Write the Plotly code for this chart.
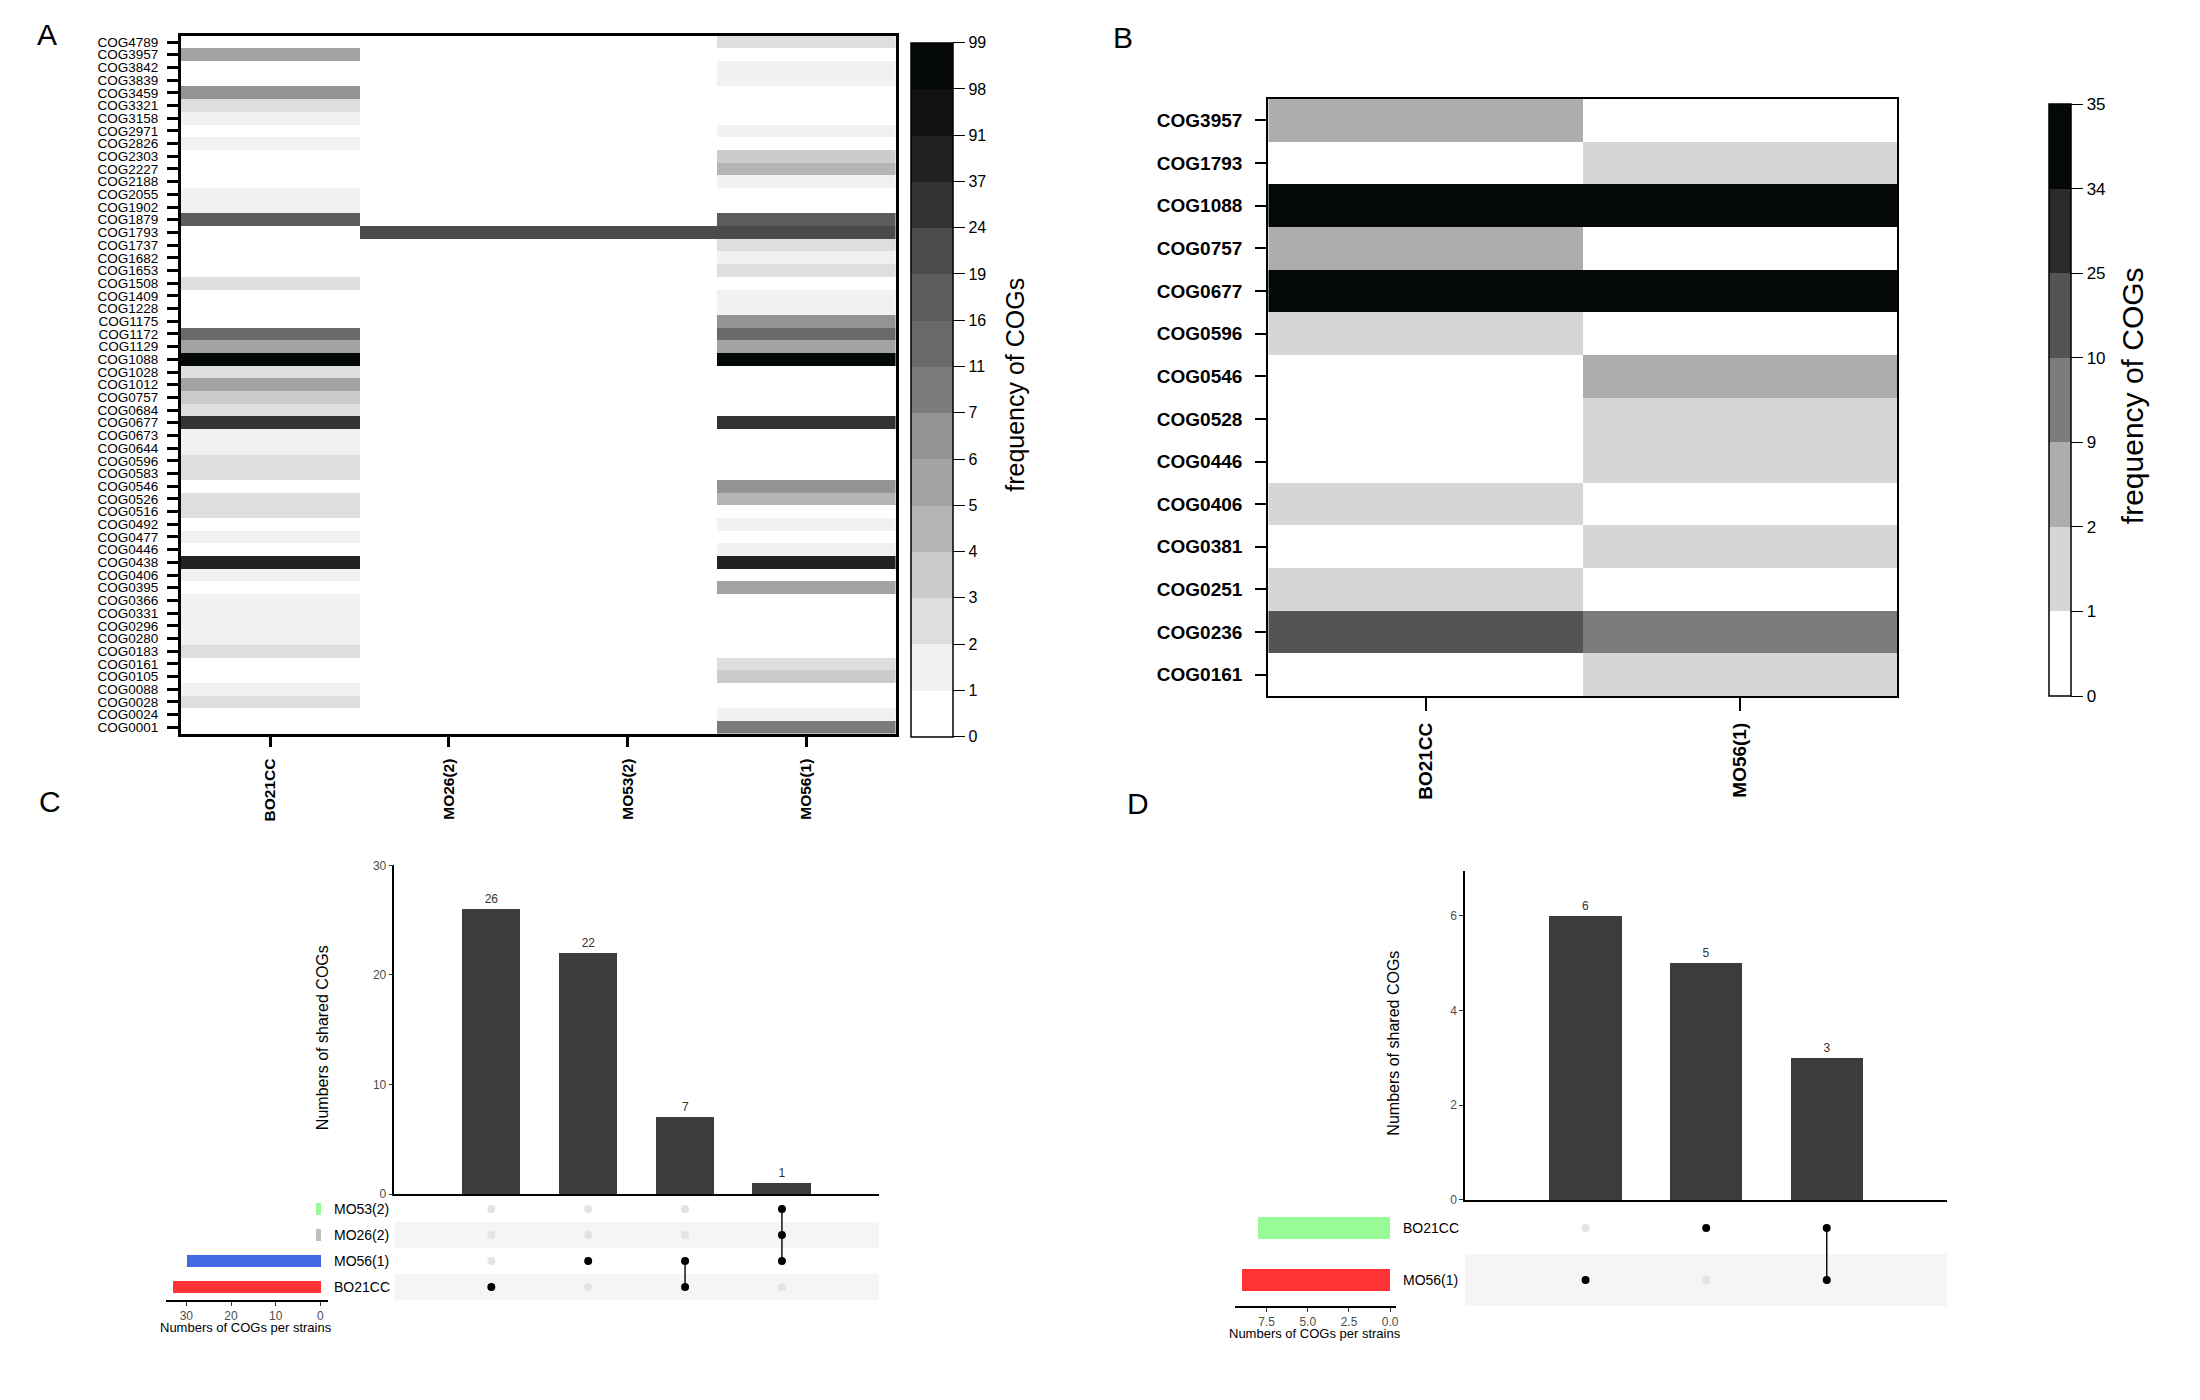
import numpy as np
import plotly.graph_objects as go

W, H = 2200, 1400
FONT = "Liberation Sans, Arial, Helvetica, sans-serif"

# ---------------- Panel A data ----------------
cogs_A = ["COG4789", "COG3957", "COG3842", "COG3839", "COG3459", "COG3321", "COG3158", "COG2971",
          "COG2826", "COG2303", "COG2227", "COG2188", "COG2055", "COG1902", "COG1879", "COG1793",
          "COG1737", "COG1682", "COG1653", "COG1508", "COG1409", "COG1228", "COG1175", "COG1172",
          "COG1129", "COG1088", "COG1028", "COG1012", "COG0757", "COG0684", "COG0677", "COG0673",
          "COG0644", "COG0596", "COG0583", "COG0546", "COG0526", "COG0516", "COG0492", "COG0477",
          "COG0446", "COG0438", "COG0406", "COG0395", "COG0366", "COG0331", "COG0296", "COG0280",
          "COG0183", "COG0161", "COG0105", "COG0088", "COG0028", "COG0024", "COG0001"]
strains_A = ["BO21CC", "MO26(2)", "MO53(2)", "MO56(1)"]
freq_A_BO21CC = [0, 5, 0, 0, 6, 2, 1, 0, 1, 0, 0, 0, 1, 1, 17, 0, 0, 0, 0, 2, 0, 0, 0, 12, 5, 99, 2,
                 5, 3, 2, 30, 1, 1, 2, 2, 0, 2, 2, 0, 1, 0, 40, 1, 0, 1, 1, 1, 1, 2, 0, 0, 1, 2, 0, 0]
freq_A_MO26 = [0] * 15 + [20] + [0] * 39
freq_A_MO53 = [0] * 15 + [20] + [0] * 39
freq_A_MO56 = [2, 0, 1, 1, 0, 0, 0, 1, 0, 3, 4, 1, 0, 0, 17, 20, 2, 1, 2, 0, 1, 1, 6, 12, 5, 99, 0,
               0, 0, 0, 30, 0, 0, 0, 0, 6, 4, 0, 1, 0, 1, 40, 0, 5, 0, 0, 0, 0, 0, 2, 3, 0, 0, 1, 8]
breaks_A = [0, 1, 2, 3, 4, 5, 6, 7, 11, 16, 19, 24, 37, 91, 98, 99]
greys_A = ["#ffffff", "#f0f1f0", "#dedede", "#cbcbcb", "#b4b5b5", "#a3a3a3", "#939393", "#7b7d7c",
           "#6a6a6a", "#5c5c5c", "#4a4c4c", "#333333", "#222222", "#121212", "#050808"]

# ---------------- Panel B data ----------------
cogs_B = ["COG3957", "COG1793", "COG1088", "COG0757", "COG0677", "COG0596", "COG0546",
          "COG0528", "COG0446", "COG0406", "COG0381", "COG0251", "COG0236", "COG0161"]
strains_B = ["BO21CC", "MO56(1)"]
freq_B_BO21CC = [2, 0, 35, 2, 34, 1, 0, 0, 0, 1, 0, 1, 10, 0]
freq_B_MO56 = [0, 1, 35, 0, 34, 0, 2, 1, 1, 0, 1, 0, 9, 1]
breaks_B = [0, 1, 2, 9, 10, 25, 34, 35]
greys_B = ["#ffffff", "#d6d6d6", "#adadad", "#7b7c7b", "#535555", "#2a2a2a", "#050808"]

# ---------------- Panel C data (UpSet) ----------------
sets_C = ["BO21CC", "MO56(1)", "MO26(2)", "MO53(2)"]          # bottom -> top
set_sizes_C = [33, 30, 1, 1]
set_colors_C = ["#ff3333", "#4169e1", "#bebebe", "#98fb98"]
inter_C = [["BO21CC"], ["MO56(1)"], ["BO21CC", "MO56(1)"], ["MO26(2)", "MO53(2)", "MO56(1)"]]
inter_counts_C = [26, 22, 7, 1]

# ---------------- Panel D data (UpSet) ----------------
sets_D = ["MO56(1)", "BO21CC"]                                  # bottom -> top
set_sizes_D = [9, 8]
set_colors_D = ["#ff3333", "#98fb98"]
inter_D = [["MO56(1)"], ["BO21CC"], ["BO21CC", "MO56(1)"]]
inter_counts_D = [6, 5, 3]


def px(x):
    return x / W


def py(y):
    return 1 - y / H


def bin_index(vals, breaks):
    idx = np.searchsorted(np.array(breaks), np.array(vals), side="right") - 1
    return np.clip(idx, 0, len(breaks) - 2)


def step_scale(colors):
    n = len(colors)
    sc = []
    for i, c in enumerate(colors):
        sc.append([i / n, c])
        sc.append([(i + 1) / n, c])
    return sc


fig = go.Figure()

# ---------------- Heatmap A ----------------
colsA = [freq_A_BO21CC, freq_A_MO26, freq_A_MO53, freq_A_MO56]
zA = np.stack([bin_index(c, breaks_A) for c in colsA], axis=1) + 0.5
nA = len(breaks_A) - 1
fig.add_trace(go.Heatmap(
    x=strains_A, y=cogs_A, z=zA, zmin=0, zmax=nA, colorscale=step_scale(greys_A),
    xaxis="x", yaxis="y", hoverinfo="skip",
    colorbar=dict(x=px(912), xanchor="left", y=py(36), yanchor="top",
                  len=694, lenmode="pixels", thickness=42, thicknessmode="pixels",
                  xpad=0, ypad=0, outlinecolor="black", outlinewidth=1.5,
                  tickmode="array", tickvals=list(range(nA + 1)),
                  ticktext=[str(b) for b in breaks_A], ticks="outside", ticklen=12,
                  tickwidth=1.2, tickcolor="black",
                  tickfont=dict(size=16, family=FONT, color="black"))))

# ---------------- Heatmap B ----------------
colsB = [freq_B_BO21CC, freq_B_MO56]
zB = np.stack([bin_index(c, breaks_B) for c in colsB], axis=1) + 0.5
nB = len(breaks_B) - 1
fig.add_trace(go.Heatmap(
    x=strains_B, y=cogs_B, z=zB, zmin=0, zmax=nB, colorscale=step_scale(greys_B),
    xaxis="x2", yaxis="y2", hoverinfo="skip",
    colorbar=dict(x=px(2052), xanchor="left", y=py(98), yanchor="top",
                  len=592, lenmode="pixels", thickness=22, thicknessmode="pixels",
                  xpad=0, ypad=0, outlinecolor="black", outlinewidth=1.5,
                  tickmode="array", tickvals=list(range(nB + 1)),
                  ticktext=[str(b) for b in breaks_B], ticks="outside", ticklen=12,
                  tickwidth=1.2, tickcolor="black",
                  tickfont=dict(size=17, family=FONT, color="black"))))


# ---------------- UpSet helper ----------------
def add_upset(sets, sizes, colors, inters, counts, ax_main, ax_mat, ax_set, set_w, dot):
    xs = list(range(1, len(inters) + 1))
    pos = {s: i + 1 for i, s in enumerate(sets)}
    fig.add_trace(go.Bar(x=xs, y=counts, width=0.6, marker=dict(color="#3c3c3c", line=dict(width=0)),
                         text=[str(c) for c in counts], textposition="outside",
                         textfont=dict(size=12, family=FONT, color="#333333"), cliponaxis=False,
                         xaxis="x" + ax_main, yaxis="y" + ax_main, hoverinfo="skip"))
    lx, ly = [], []
    for x, mem in zip(xs, inters):
        if len(mem) > 1:
            ys = [pos[s] for s in mem]
            lx += [x, x, None]
            ly += [min(ys), max(ys), None]
    fig.add_trace(go.Scatter(x=lx, y=ly, mode="lines", line=dict(color="black", width=1.4),
                             xaxis="x" + ax_mat, yaxis="y" + ax_mat, hoverinfo="skip"))
    dx, dy, dc = [], [], []
    for x, mem in zip(xs, inters):
        for s in sets:
            dx.append(x)
            dy.append(pos[s])
            dc.append("black" if s in mem else "#e3e3e3")
    fig.add_trace(go.Scatter(x=dx, y=dy, mode="markers", marker=dict(color=dc, size=dot, line=dict(width=0)),
                             xaxis="x" + ax_mat, yaxis="y" + ax_mat, hoverinfo="skip"))
    fig.add_trace(go.Bar(x=sizes, y=[pos[s] for s in sets], orientation="h", width=set_w,
                         marker=dict(color=colors, line=dict(width=0)),
                         xaxis="x" + ax_set, yaxis="y" + ax_set, hoverinfo="skip"))
    shapes = []
    n = len(sets)
    for s in sets:
        if (n - pos[s]) % 2 == 1:
            shapes.append(dict(type="rect", xref="x" + ax_mat + " domain", x0=0, x1=1,
                               yref="y" + ax_mat, y0=pos[s] - 0.5, y1=pos[s] + 0.5,
                               fillcolor="#f5f5f5", line=dict(width=0), layer="below"))
    return shapes, [(s, pos[s]) for s in sets]


shapesC, annsC = add_upset(sets_C, set_sizes_C, set_colors_C, inter_C, inter_counts_C,
                           "3", "4", "5", 0.45, 8)
shapesD, annsD = add_upset(sets_D, set_sizes_D, set_colors_D, inter_D, inter_counts_D,
                           "6", "7", "8", 0.42, 8)

tickfont_small = dict(size=12, family=FONT, color="#4d4d4d")
hidden = dict(visible=False, showgrid=False, zeroline=False)

layout = dict(
    width=W, height=H, margin=dict(l=0, r=0, t=0, b=0), showlegend=False,
    paper_bgcolor="white", plot_bgcolor="white",
    font=dict(family=FONT, color="black"),
    bargap=0,
    # Panel A
    xaxis=dict(domain=[px(181), px(897)], anchor="y", type="category", showline=True, mirror=True,
               linecolor="black", linewidth=2.5, ticks="outside", ticklen=11, tickwidth=2.5,
               tickcolor="black", tickangle=-90, ticklabelstandoff=5,
               tickfont=dict(size=15.5, family=FONT, weight="bold", color="black"),
               showgrid=False, zeroline=False),
    yaxis=dict(domain=[py(734), py(29)], anchor="x", type="category", autorange="reversed",
               tickmode="array", tickvals=cogs_A, ticktext=cogs_A, showline=True, mirror=True,
               linecolor="black", linewidth=2.5, ticks="outside", ticklen=11, tickwidth=2.5,
               tickcolor="black", ticklabelstandoff=6,
               tickfont=dict(size=13.5, family=FONT, color="black"), showgrid=False, zeroline=False),
    # Panel B
    xaxis2=dict(domain=[px(1270), px(1900)], anchor="y2", type="category", showline=True, mirror=True,
                linecolor="black", linewidth=2.2, ticks="outside", ticklen=13, tickwidth=2,
                tickcolor="black", tickangle=-90, ticklabelstandoff=4,
                tickfont=dict(size=19, family=FONT, weight="bold", color="black"),
                showgrid=False, zeroline=False),
    yaxis2=dict(domain=[py(696), py(93)], anchor="x2", type="category", autorange="reversed",
                tickmode="array", tickvals=cogs_B, ticktext=cogs_B, showline=True, mirror=True,
                linecolor="black", linewidth=2.2, ticks="outside", ticklen=11, tickwidth=2,
                tickcolor="black", ticklabelstandoff=9,
                tickfont=dict(size=19, family=FONT, weight="bold", color="black"),
                showgrid=False, zeroline=False),
    # Panel C
    xaxis3=dict(domain=[px(395), px(880)], anchor="y3", range=[0, 5], showticklabels=False, ticks="",
                showline=True, linecolor="black", linewidth=1.5, showgrid=False, zeroline=False),
    yaxis3=dict(domain=[py(1199), py(867)], anchor="x3", range=[0, 30], tickvals=[0, 10, 20, 30],
                ticks="outside", ticklen=4, tickcolor="#333333", showline=True, linecolor="black",
                linewidth=1.5, tickfont=tickfont_small, showgrid=False, zeroline=False),
    xaxis4=dict(domain=[px(395), px(880)], anchor="y4", range=[0, 5], **hidden),
    yaxis4=dict(domain=[py(1306), py(1201)], anchor="x4", range=[0.5, 4.5], **hidden),
    xaxis5=dict(domain=[px(166), px(328)], anchor="y5", range=[34.6, -1.6], tickvals=[0, 10, 20, 30],
                ticks="outside", ticklen=4, tickcolor="#333333", showline=True, linecolor="black",
                linewidth=1.5, tickfont=tickfont_small, showgrid=False, zeroline=False),
    yaxis5=dict(domain=[py(1306), py(1201)], anchor="x5", range=[0.5, 4.5], **hidden),
    # Panel D
    xaxis6=dict(domain=[px(1467), px(1950)], anchor="y6", range=[0, 4], showticklabels=False, ticks="",
                showline=True, linecolor="black", linewidth=1.5, showgrid=False, zeroline=False),
    yaxis6=dict(domain=[py(1205), py(873)], anchor="x6", range=[0, 6.94], tickvals=[0, 2, 4, 6],
                ticks="outside", ticklen=4, tickcolor="#333333", showline=True, linecolor="black",
                linewidth=1.5, tickfont=tickfont_small, showgrid=False, zeroline=False),
    xaxis7=dict(domain=[px(1467), px(1950)], anchor="y7", range=[0, 4], **hidden),
    yaxis7=dict(domain=[py(1312), py(1207)], anchor="x7", range=[0.5, 2.5], **hidden),
    xaxis8=dict(domain=[px(1237), px(1398)], anchor="y8", range=[9.4, -0.36], tickvals=[0, 2.5, 5, 7.5],
                ticktext=["0.0", "2.5", "5.0", "7.5"], ticks="outside", ticklen=4, tickcolor="#333333",
                showline=True, linecolor="black", linewidth=1.5, tickfont=tickfont_small,
                showgrid=False, zeroline=False),
    yaxis8=dict(domain=[py(1312), py(1207)], anchor="x8", range=[0.5, 2.5], **hidden),
)

annotations = []
for txt, (x, y) in zip(["A", "B", "C", "D"], [(47, 28), (1125, 31), (50, 803), (1140, 805)]):
    annotations.append(dict(text=txt, x=px(x), y=py(y), xref="paper", yref="paper",
                            xanchor="center", yanchor="middle", showarrow=False,
                            font=dict(size=30, family=FONT, color="black")))
# colour-bar titles
for (x, y, size) in [(1017, 382, 25), (2135, 393, 30)]:
    annotations.append(dict(text="frequency of COGs", x=px(x), y=py(y), xref="paper", yref="paper",
                            textangle=-90, xanchor="center", yanchor="middle", showarrow=False,
                            font=dict(size=size, family=FONT, color="black")))
for s, yv in annsC:
    annotations.append(dict(text=s, x=px(332), xref="paper", xanchor="left", y=yv, yref="y5",
                            yanchor="middle", showarrow=False, font=dict(size=14, family=FONT, color="black")))
for s, yv in annsD:
    annotations.append(dict(text=s, x=px(1403), xref="paper", xanchor="left", y=yv, yref="y8",
                            yanchor="middle", showarrow=False, font=dict(size=14, family=FONT, color="black")))
for (x, y) in [(323, 1041), (1395, 1047)]:
    annotations.append(dict(text="Numbers of shared COGs", x=px(x), y=py(y), xref="paper", yref="paper",
                            textangle=-90, xanchor="center", yanchor="middle", showarrow=False,
                            font=dict(size=16, family=FONT, color="black")))
for (x, y) in [(246, 1334), (1317, 1340)]:
    annotations.append(dict(text="Numbers of COGs per strains", x=px(x), y=py(y), xref="paper", yref="paper",
                            xanchor="center", yanchor="middle", showarrow=False,
                            font=dict(size=13, family=FONT, color="black")))

layout["annotations"] = annotations
layout["shapes"] = shapesC + shapesD
fig.update_layout(**layout)
fig.write_html("out.html")
